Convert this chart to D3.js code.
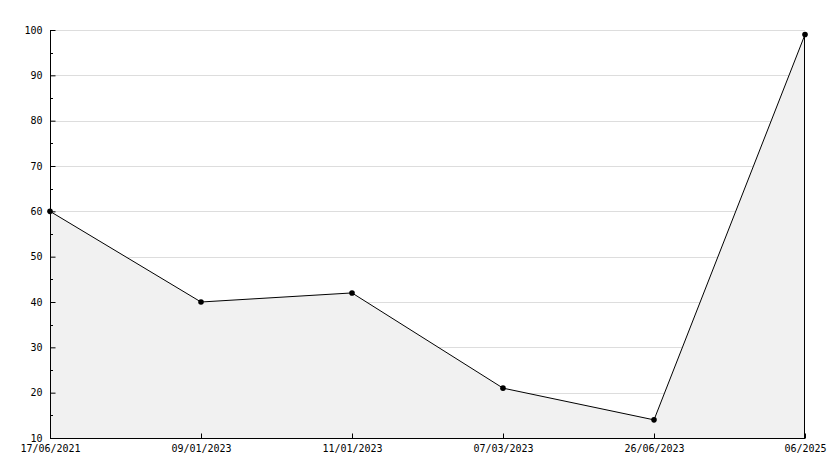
<!DOCTYPE html>
<html><head><meta charset="utf-8">
<script src="https://cdn.jsdelivr.net/npm/d3@7"></script>
<style>body{margin:0;background:#fff}svg{display:block}</style>
</head><body><svg id="c" width="834" height="468"></svg>
<script>
const categories = ["17/06/2021","09/01/2023","11/01/2023","07/03/2023","26/06/2023","06/2025"];
const values = [60, 40, 42, 21, 14, 99];
const yTicks = [10,20,30,40,50,60,70,80,90,100];

const svg = d3.select("#c");
const L = 50, R = 805, T = 30, B = 438;
const x = d3.scalePoint().domain(categories).range([L, R]);
const y = d3.scaleLinear().domain([10, 100]).range([B, T]);
const font = "'DejaVu Sans Mono', monospace";

svg.append("rect").attr("width",834).attr("height",468).attr("fill","#fff");

// grid
svg.append("g").selectAll("line").data(yTicks.filter(d=>d>10)).join("line")
  .attr("x1",L).attr("x2",R).attr("y1",d=>y(d)+0.5).attr("y2",d=>y(d)+0.5)
  .attr("stroke","#dddddd").attr("stroke-width",1).attr("shape-rendering","crispEdges");

const data = categories.map((c,i)=>({c, v: values[i]}));
// area
svg.append("path").datum(data)
  .attr("d", d3.area().x(d=>x(d.c)).y0(B).y1(d=>y(d.v)))
  .attr("fill","#f1f1f1");
// right edge line
svg.append("line").attr("x1",R-0.5).attr("x2",R-0.5).attr("y1",y(values[values.length-1])).attr("y2",B)
  .attr("stroke","#000").attr("shape-rendering","crispEdges");
// line
svg.append("path").datum(data)
  .attr("d", d3.line().x(d=>x(d.c)).y(d=>y(d.v)))
  .attr("fill","none").attr("stroke","#000").attr("stroke-width",1);
// markers
svg.append("g").selectAll("circle").data(data).join("circle")
  .attr("cx",d=>x(d.c)).attr("cy",d=>y(d.v)).attr("r",2.8).attr("fill","#000");

// y axis
const ya = d3.axisLeft(y).tickValues(yTicks).tickSize(-5).tickPadding(8).tickFormat(d3.format("d"));
const gy = svg.append("g").attr("transform",`translate(${L+0.5},0)`).call(ya);
gy.select(".domain").attr("d",`M0,${T}V${B}`);
gy.selectAll("text").attr("font-family",font).attr("font-size",10).attr("fill","#000").attr("dy","0.32em");
gy.selectAll(".tick line").attr("x2",5).attr("stroke","#000");
// minor y ticks
svg.append("g").selectAll("line").data(d3.range(15,100,10)).join("line")
  .attr("x1",L).attr("x2",L+3).attr("y1",d=>y(d)+0.5).attr("y2",d=>y(d)+0.5)
  .attr("stroke","#000").attr("shape-rendering","crispEdges");

// x axis
const xa = d3.axisBottom(x).tickSize(-5).tickPadding(6);
const gx = svg.append("g").attr("transform",`translate(0,${B+0.5})`).call(xa);
gx.select(".domain").attr("d",`M${L},0H${R}`);
gx.selectAll(".tick line").attr("y2",-5).attr("stroke","#000");
gx.selectAll("text").attr("font-family",font).attr("font-size",10).attr("fill","#000").attr("dy","0.71em");
svg.selectAll(".domain").attr("stroke","#000").attr("shape-rendering","crispEdges");
</script></body></html>
